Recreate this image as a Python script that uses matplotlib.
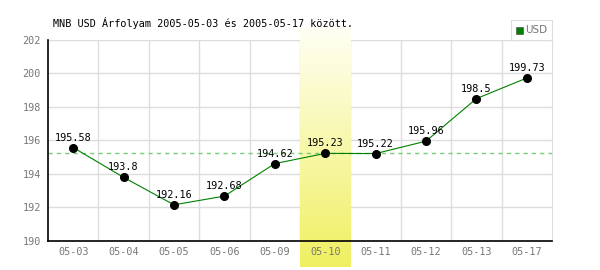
import numpy as np
import matplotlib
matplotlib.use('Agg')
import matplotlib.pyplot as plt

# 날짜와 환율 값
dates = ['05-03', '05-04', '05-05', '05-06', '05-09', '05-10', '05-11', '05-12', '05-13', '05-17']
rates = [195.58, 193.8, 192.16, 192.68, 194.62, 195.23, 195.22, 195.96, 198.5, 199.73]
labels = ['195.58', '193.8', '192.16', '192.68', '194.62', '195.23', '195.22', '195.96', '198.5', '199.73']
avg_line = 195.23
highlight = 5
yticks = [190, 192, 194, 196, 198, 200, 202]

plt.rcParams['font.family'] = ['DejaVu Sans Mono']

fig = plt.figure(figsize=(6, 2.7), dpi=100)
ax = fig.add_axes([0.08, 0.1074, 0.84, 0.7445])

x = np.arange(len(dates))

# 강조 구간 (그라데이션)
grad = np.linspace(0, 1, 256).reshape(-1, 1)
top = np.array([1.0, 1.0, 0.96])
bot = np.array([0.94, 0.94, 0.38])
img = top + (bot - top) * grad[:, :, None]
im = ax.imshow(img, extent=(highlight - 0.5, highlight + 0.5, 0, 1), aspect='auto',
               transform=ax.get_xaxis_transform(), zorder=1.5)
im.set_extent((highlight - 0.5, highlight + 0.5, -0.13, 1.06))
im.set_clip_on(False)
ax.set_xlim(-0.5, len(dates) - 0.5)
ax.set_ylim(190, 202)

# 격자
for b in np.arange(0.5, len(dates) - 0.5, 1):
    ax.axvline(b, color='#dddddd', lw=1, zorder=1)
for t in yticks[1:]:
    ax.axhline(t, color='#dddddd', lw=1, zorder=1)

ax.axhline(avg_line, color='#77cc77', lw=1, ls=(0, (3, 3)), zorder=2)
ax.plot(x, rates, color='#008000', lw=0.8, zorder=3)
ax.plot(x, rates, 'o', color='black', ms=5.5, zorder=4)

for xi, yi, lb in zip(x, rates, labels):
    ax.text(xi, yi + 0.3, lb, ha='center', va='bottom', fontsize=7.3, color='black', zorder=5)

ax.set_xticks(x)
ax.set_xticklabels(dates)
ax.set_yticks(yticks)
ax.tick_params(length=0, colors='#777777', labelsize=7.3)
ax.tick_params(axis='x', pad=4)
ax.tick_params(axis='y', pad=5)

ax.spines['top'].set_visible(False)
ax.spines['right'].set_color('#dddddd')
ax.spines['left'].set_color('black')
ax.spines['bottom'].set_color('black')
ax.spines['bottom'].set_linewidth(1.2)
ax.spines['left'].set_linewidth(1.2)
ax.spines['bottom'].set_zorder(6)

fig.text(53 / 600, 1 - 23 / 270, 'MNB USD Árfolyam 2005-05-03 és 2005-05-17 között.',
         fontsize=7.25, ha='left', va='center', color='black')

# 범례 상자
lax = fig.add_axes([511 / 600, 1 - 40 / 270, 41 / 600, 20 / 270])
lax.set_xticks([])
lax.set_yticks([])
for s in lax.spines.values():
    s.set_color('#dddddd')
lax.set_xlim(0, 41)
lax.set_ylim(0, 20)
lax.add_patch(plt.Rectangle((5, 6.5), 7, 7, facecolor='#008000', edgecolor='#555555', lw=0.5))
lax.text(14, 9.8, 'USD', fontsize=7.5, color='#777777', va='center', ha='left',
         family=['DejaVu Sans'])

fig.savefig('out.png', dpi=100)
